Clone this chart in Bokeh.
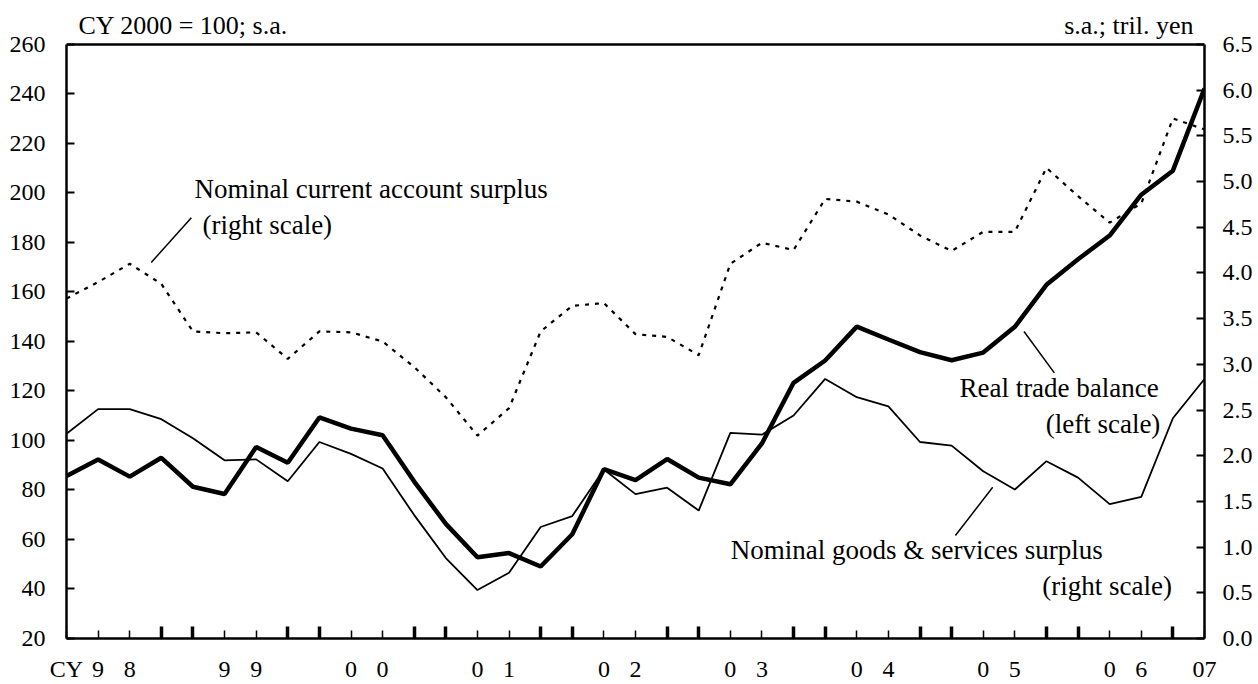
from bokeh.plotting import figure
from bokeh.models import Range1d, LinearAxis, FixedTicker, Label, PrintfTickFormatter, Span
from bokeh.embed import file_html
from bokeh.resources import INLINE

# ---- data (quarterly, 1998Q1 .. 2007Q1) ----
years = ["98", "99", "00", "01", "02", "03", "04", "05", "06"]
last_year_label = "07"
axis_prefix = "CY"
quarters = [f"{y}Q{q}" for y in years for q in (1, 2, 3, 4)] + ["07Q1"]

# Real trade balance, CY2000 = 100 (left scale)
real_trade = [85.6, 92.3, 85.4, 93.0, 81.3, 78.4, 97.4, 91.0, 109.3, 104.8,
              102.1, 83.4, 66.3, 52.8, 54.5, 49.1, 62.1, 88.4, 84.0, 92.5,
              85.0, 82.3, 98.8, 123.3, 132.3, 146.0, 140.8, 135.7, 132.4, 135.5,
              145.9, 162.9, 173.2, 182.8, 199.3, 209.0, 242.2]

# Nominal goods & services surplus, tril. yen (right scale)
goods_services = [2.24, 2.51, 2.51, 2.40, 2.19, 1.95, 1.96, 1.72, 2.15, 2.02,
                  1.86, 1.35, 0.88, 0.53, 0.72, 1.22, 1.34, 1.85, 1.58, 1.65,
                  1.40, 2.25, 2.23, 2.44, 2.84, 2.64, 2.54, 2.15, 2.11, 1.83,
                  1.63, 1.94, 1.76, 1.47, 1.55, 2.41, 2.84]

# Nominal current account surplus, tril. yen (right scale)
current_account = [3.72, 3.90, 4.10, 3.88, 3.36, 3.34, 3.35, 3.06, 3.36, 3.35,
                   3.25, 2.97, 2.64, 2.22, 2.52, 3.36, 3.64, 3.67, 3.33, 3.30,
                   3.10, 4.10, 4.33, 4.25, 4.81, 4.78, 4.64, 4.41, 4.24, 4.45,
                   4.45, 5.15, 4.84, 4.55, 4.76, 5.69, 5.57]

left_ticks = [20, 40, 60, 80, 100, 120, 140, 160, 180, 200, 220, 240, 260]
right_ticks = [0.0, 0.5, 1.0, 1.5, 2.0, 2.5, 3.0, 3.5, 4.0, 4.5, 5.0, 5.5, 6.0, 6.5]

x = list(range(len(quarters)))
n_last = len(quarters) - 1

FONT = "Liberation Serif"

# layout (pixels)
W, H = 1256, 684
LEFT, RIGHT_EDGE, TOP_AXIS, BOTTOM_AXIS = 66, 1204, 44, 639
FRAME_TOP = 4
px_per_left = (BOTTOM_AXIS - TOP_AXIS) / (260 - 20)
px_per_right = (BOTTOM_AXIS - TOP_AXIS) / 6.5
left_end = 260 + (TOP_AXIS - FRAME_TOP) / px_per_left
right_end = 6.5 + (TOP_AXIS - FRAME_TOP) / px_per_right

p = figure(width=W, height=H, output_backend="svg", toolbar_location=None,
           x_range=Range1d(0, n_last), y_range=Range1d(20, left_end),
           min_border_left=LEFT, min_border_right=W - RIGHT_EDGE,
           min_border_top=FRAME_TOP, min_border_bottom=H - BOTTOM_AXIS)
p.extra_y_ranges = {"right": Range1d(0, right_end)}
p.xgrid.visible = False
p.ygrid.visible = False
p.background_fill_color = "white"
p.border_fill_color = "white"
p.outline_line_color = None

# x axis: digits of each year under the 2nd and 3rd quarter
label_ticks = [0]
overrides = {0: axis_prefix}
for k, yr in enumerate(years):
    a, b = 4 * k + 1, 4 * k + 2
    label_ticks += [a, b]
    overrides[a] = yr[0]
    overrides[b] = yr[1]
label_ticks.append(n_last)
overrides[n_last] = last_year_label
minor = [i for i in x if i % 4 in (0, 3) and 0 < i < n_last]

xa = p.xaxis[0]
xa.ticker = FixedTicker(ticks=label_ticks, minor_ticks=minor)
xa.major_label_overrides = overrides
xa.major_tick_in = 8
xa.major_tick_out = 0
xa.major_tick_line_width = 1.5
xa.minor_tick_in = 12
xa.minor_tick_out = 0
xa.minor_tick_line_width = 3.5
xa.axis_line_width = 2.5
xa.major_label_standoff = 17
xa.major_label_text_font = FONT
xa.major_label_text_font_size = "24px"
xa.major_label_text_color = "black"

ya = p.yaxis[0]
ya.ticker = FixedTicker(ticks=left_ticks, minor_ticks=[])
ya.bounds = (20, 260)
ya.major_tick_in = 8
ya.major_tick_out = 0
ya.major_tick_line_width = 2
ya.axis_line_width = 2.5
ya.major_label_standoff = 21
ya.major_label_text_font = FONT
ya.major_label_text_font_size = "24px"
ya.major_label_text_color = "black"

ra = LinearAxis(y_range_name="right", ticker=FixedTicker(ticks=right_ticks, minor_ticks=[]),
                formatter=PrintfTickFormatter(format="%.1f"), bounds=(0, 6.5))
ra.major_tick_in = 8
ra.major_tick_out = 0
ra.major_tick_line_width = 2
ra.axis_line_width = 2.5
ra.major_label_standoff = 18
ra.major_label_text_font = FONT
ra.major_label_text_font_size = "24px"
ra.major_label_text_color = "black"
p.add_layout(ra, "right")

# top border of the plotting box
p.add_layout(Span(location=260, dimension="width", line_color="black", line_width=2.5))

# ---- series ----
p.line(x, current_account, y_range_name="right", line_color="black",
       line_width=2.2, line_dash="4 6")
p.line(x, goods_services, y_range_name="right", line_color="black", line_width=1.8)
p.line(x, real_trade, line_color="black", line_width=4.5)

# ---- annotations ----
def txt(xv, yv, s, align="left", size="27px", baseline="middle"):
    p.add_layout(Label(x=xv, y=yv, text=s, text_align=align, text_baseline=baseline,
                       text_font=FONT, text_font_size=size, text_color="black"))

txt(4.05, 201.6, "Nominal current account surplus")
txt(4.30, 187.1, "(right scale)")
txt(31.40, 121.1, "Real trade balance", align="center")
txt(32.79, 106.6, "(left scale)", align="center")
txt(26.9, 55.8, "Nominal goods & services surplus", align="center")
txt(32.92, 41.3, "(right scale)", align="center")

p.segment(x0=[2.68, 30.29, 28.12], y0=[171.9, 144.0, 61.6],
          x1=[3.95, 31.25, 29.30], y1=[190.0, 127.3, 81.1],
          line_color="black", line_width=1.5)

txt(0.38, 267.7, "CY 2000 = 100; s.a.", size="26px")
txt(35.65, 267.7, "s.a.; tril. yen", align="right", size="26px")

open("out.html", "w").write(file_html(p, INLINE))
